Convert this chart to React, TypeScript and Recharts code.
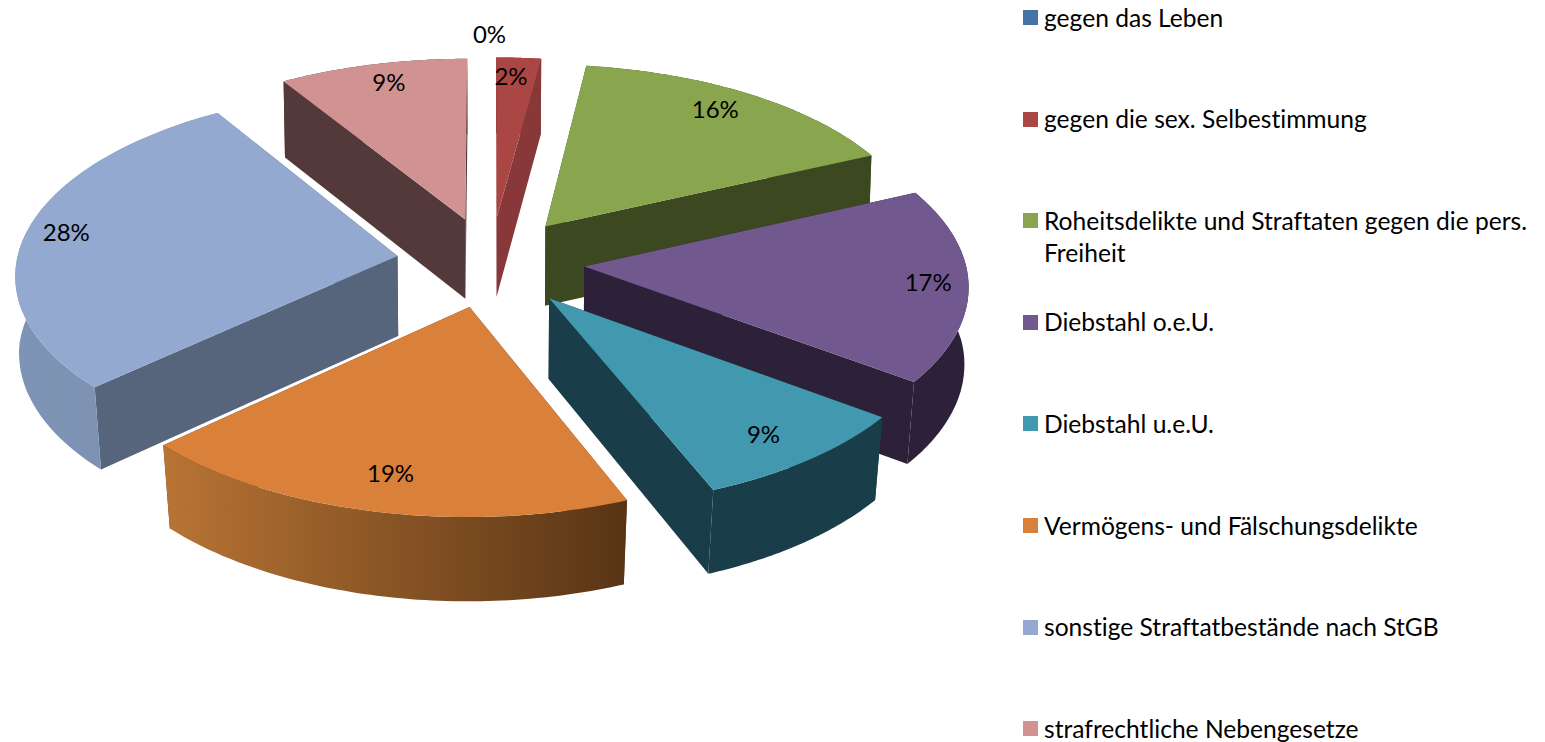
import React from 'react';
import { PieChart, Pie, Legend } from 'recharts';

const CATEGORIES = [
  'gegen das Leben',
  'gegen die sex. Selbestimmung',
  'Roheitsdelikte und Straftaten gegen die pers. Freiheit',
  'Diebstahl o.e.U.',
  'Diebstahl u.e.U.',
  'Vermögens- und Fälschungsdelikte',
  'sonstige Straftatbestände nach StGB',
  'strafrechtliche Nebengesetze',
];
const VALUES = [0, 2.1, 16.04, 17.0, 8.75, 19.22, 28.03, 8.86];
const COLORS = ['#4573A7', '#AA4643', '#89A54E', '#71588F', '#4198AF', '#D9803B', '#93A9CF', '#D19392'];
const SIDE_COLORS = ['#2A4565', '#883838', '#3B4820', '#2C2138', '#1A3D4A', '#5A3617', '#56647C', '#53393A'];
const WALL_FROM = ['#2A4565', '#883838', '#3B4820', '#2C2138', '#1A3D4A', '#B87434', '#7E94B6', '#53393A'];
const WALL_TO = ['#2A4565', '#883838', '#3B4820', '#2C2138', '#1A3D4A', '#583415', '#7C90AF', '#53393A'];
const LABEL_NUDGE: [number, number][] = [[-1, -43], [-5, -2], [-9, -2], [10, -2], [-10, -4], [3, -10], [-8, -4], [5, -2]];

const FONT = 'Lato, sans-serif';
const EXPLODE = 0.247;
const PERSPECTIVE = 0.09;
const SQUASH = 183 / 382;

const table = CATEGORIES.map((name, i) => ({ name, value: VALUES[i], fill: COLORS[i] }));

const rad = (d: number) => (d * Math.PI) / 180;

function makeProjector(cx: number, cy: number, R: number, midCW: number) {
  return (thetaCW: number, r: number) => {
    const X = EXPLODE * Math.sin(rad(midCW)) + r * Math.sin(rad(thetaCW));
    const Y = -EXPLODE * Math.cos(rad(midCW)) - r * Math.cos(rad(thetaCW));
    const w = 1 - PERSPECTIVE * Y;
    const x = cx + (R * X) / w;
    const y = cy + (R * SQUASH * Y) / w;
    const bx = cx + (x - cx) * (1 - (0.007 + 0.014 * Math.max(Y, 0)));
    const by = y + 80 + 3.5 * Y;
    return { x, y, bx, by };
  };
}

const top = (p: { x: number; y: number }) => `${p.x.toFixed(1)},${p.y.toFixed(1)}`;
const bot = (p: { bx: number; by: number }) => `${p.bx.toFixed(1)},${p.by.toFixed(1)}`;

function Slice3D(props: any) {
  const { cx, cy, outerRadius, startAngle, endAngle, index } = props;
  const s = 90 - startAngle;
  const e = 90 - endAngle;
  if (Math.abs(e - s) < 0.01) return null;
  const mid = (s + e) / 2;
  const pr = makeProjector(cx, cy, outerRadius, mid);
  const apex = pr(mid, 0);
  const arc = [] as ReturnType<typeof pr>[];
  const n = 72;
  for (let i = 0; i <= n; i++) arc.push(pr(s + ((e - s) * i) / n, 1));
  const first = arc[0];
  const last = arc[n];
  const side = SIDE_COLORS[index];
  const gid = `wall-${index}`;
  const poly = (pts: string[]) => pts.join(' ');
  return (
    <g>
      <defs>
        <linearGradient id={gid} x1="0" y1="0" x2="1" y2="0">
          <stop offset="0" stopColor={WALL_FROM[index]} />
          <stop offset="1" stopColor={WALL_TO[index]} />
        </linearGradient>
      </defs>
      <polygon points={poly([top(apex), top(first), bot(first), bot(apex)])} fill={side} />
      <polygon points={poly([top(apex), top(last), bot(last), bot(apex)])} fill={side} />
      <polygon points={poly([...arc.map(top), ...arc.slice().reverse().map(bot)])} fill={`url(#${gid})`} />
      <polygon points={poly([top(apex), ...arc.map(top)])} fill={COLORS[index]} />
    </g>
  );
}

function SliceLabel(props: any) {
  const { cx, cy, outerRadius, midAngle, percent, index } = props;
  const mid = 90 - midAngle;
  const p = makeProjector(cx, cy, outerRadius, mid)(mid, 0.87);
  const [dx, dy] = LABEL_NUDGE[index];
  return (
    <text x={p.x + dx} y={p.y + dy} fill="#000" fontFamily={FONT} fontSize={24} textAnchor="middle" dominantBaseline="central">
      {`${Math.round(percent * 100)}%`}
    </text>
  );
}

function LegendList(props: any) {
  const payload = props.payload || [];
  return (
    <div style={{ position: 'relative', width: 521, height: 742, fontFamily: FONT, fontSize: 24.6, color: '#000', fontVariantLigatures: 'none' }}>
      {payload.map((item: any, i: number) => (
        <div key={item.value} style={{ position: 'absolute', left: 0, top: 1.5 + i * 101.6, width: 521 }}>
          <span style={{ position: 'absolute', left: 0, top: 8.5, width: 15, height: 15, background: item.color }} />
          <div style={{ marginLeft: 21, lineHeight: '32px', width: 500 }}>{item.value}</div>
        </div>
      ))}
    </div>
  );
}

export default function App() {
  return (
    <div style={{ position: 'absolute', left: 0, top: 0, width: 1545, height: 742, background: '#fff' }}>
      <PieChart width={1545} height={742} margin={{ top: 0, right: 0, bottom: 0, left: 0 }}>
        <Pie
          data={table}
          dataKey="value"
          nameKey="name"
          cx={490.5}
          cy={262}
          outerRadius={381}
          startAngle={90}
          endAngle={-270}
          stroke="none"
          isAnimationActive={false}
          shape={Slice3D}
          label={SliceLabel}
          labelLine={false}
        />
        <Legend
          layout="vertical"
          align="right"
          verticalAlign="top"
          itemSorter={null}
          wrapperStyle={{ position: 'absolute', left: 1023, top: 0, width: 521, height: 742 }}
          content={LegendList}
        />
      </PieChart>
    </div>
  );
}
